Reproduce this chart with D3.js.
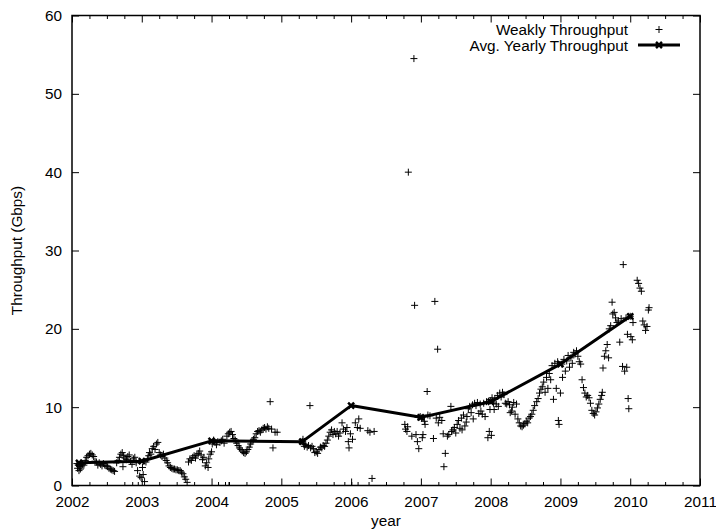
<!DOCTYPE html>
<html>
<head>
<meta charset="utf-8">
<script src="https://cdn.jsdelivr.net/npm/d3@7/dist/d3.min.js"></script>
<style>
  html, body { margin: 0; padding: 0; background: #fff; }
  svg { display: block; }
  text { font-family: "Liberation Sans", Arial, Helvetica, sans-serif; font-size: 15.3px; fill: #000; }
</style>
</head>
<body>
<svg id="chart" width="716" height="530"></svg>
<script>
// Weekly throughput samples (decimal year, Gbps)
const weekYear = [
  2002.07, 2002.08, 2002.09, 2002.10, 2002.11, 2002.12, 2002.13, 2002.14, 2002.15, 2002.17,
  2002.19, 2002.21, 2002.23, 2002.25, 2002.27, 2002.29, 2002.31, 2002.33, 2002.35, 2002.37,
  2002.39, 2002.41, 2002.43, 2002.45, 2002.47, 2002.49, 2002.51, 2002.53, 2002.55, 2002.57,
  2002.59, 2002.61, 2002.64, 2002.66, 2002.68, 2002.70, 2002.72, 2002.73, 2002.74, 2002.76,
  2002.78, 2002.80, 2002.82, 2002.84, 2002.86, 2002.87, 2002.88, 2002.90, 2002.92, 2002.94,
  2002.95, 2002.97, 2002.99, 2003.01, 2003.02, 2003.04, 2003.06, 2003.08, 2003.10, 2003.11,
  2003.13, 2003.15, 2003.17, 2003.19, 2003.21, 2003.23, 2003.25, 2003.27, 2003.29, 2003.31,
  2003.33, 2003.35, 2003.37, 2003.39, 2003.41, 2003.43, 2003.45, 2003.47, 2003.49, 2003.51,
  2003.53, 2003.55, 2003.57, 2003.59, 2003.61, 2003.63, 2003.65, 2003.67, 2003.69, 2003.71,
  2003.73, 2003.75, 2003.77, 2003.79, 2003.81, 2003.83, 2003.85, 2003.87, 2003.89, 2003.91,
  2003.93, 2003.95, 2003.96, 2003.98, 2004.00, 2004.01, 2004.03, 2004.05, 2004.07, 2004.09,
  2004.10, 2004.12, 2004.14, 2004.16, 2004.18, 2004.20, 2004.22, 2004.24, 2004.25, 2004.26,
  2004.28, 2004.30, 2004.32, 2004.34, 2004.36, 2004.38, 2004.40, 2004.42, 2004.44, 2004.46,
  2004.48, 2004.50, 2004.52, 2004.54, 2004.56, 2004.58, 2004.60, 2004.62, 2004.64, 2004.66,
  2004.68, 2004.70, 2004.72, 2004.74, 2004.76, 2004.78, 2004.80, 2004.82, 2004.84, 2004.86,
  2004.88, 2004.91, 2004.94,
  2005.30, 2005.31, 2005.32, 2005.33, 2005.35, 2005.37, 2005.39, 2005.41, 2005.42, 2005.44,
  2005.46, 2005.48, 2005.50, 2005.52, 2005.54, 2005.56, 2005.58, 2005.60, 2005.62, 2005.64,
  2005.66, 2005.68, 2005.70, 2005.72, 2005.74, 2005.76, 2005.78, 2005.80, 2005.82, 2005.84,
  2005.87, 2005.89, 2005.91, 2005.92, 2005.94, 2005.96, 2005.97, 2005.99, 2006.01, 2006.02,
  2006.06, 2006.09, 2006.10, 2006.11, 2006.13, 2006.24, 2006.27, 2006.30, 2006.33,
  2006.77, 2006.78, 2006.80, 2006.81, 2006.82, 2006.87, 2006.90, 2006.91, 2006.93, 2006.95,
  2006.96, 2006.97, 2006.99, 2007.01, 2007.02, 2007.03, 2007.05, 2007.06, 2007.09, 2007.10,
  2007.13, 2007.18, 2007.20, 2007.22, 2007.24, 2007.25, 2007.27, 2007.30, 2007.32, 2007.33,
  2007.35, 2007.38, 2007.40, 2007.43, 2007.44, 2007.46, 2007.48, 2007.50, 2007.52, 2007.54,
  2007.56, 2007.58, 2007.59, 2007.61, 2007.63, 2007.65, 2007.66, 2007.68, 2007.70, 2007.72,
  2007.74, 2007.75, 2007.77, 2007.79, 2007.81, 2007.83, 2007.85, 2007.86, 2007.88, 2007.90,
  2007.92, 2007.94, 2007.96, 2007.98, 2007.99, 2008.00, 2008.01, 2008.02, 2008.04, 2008.05,
  2008.06, 2008.08, 2008.10, 2008.11, 2008.13, 2008.15, 2008.17, 2008.19, 2008.21, 2008.23,
  2008.25, 2008.27, 2008.28, 2008.30, 2008.31, 2008.33, 2008.35, 2008.37, 2008.39, 2008.41,
  2008.43, 2008.45, 2008.47, 2008.49, 2008.51, 2008.53, 2008.55, 2008.57, 2008.59, 2008.61,
  2008.63, 2008.66, 2008.68, 2008.70, 2008.72, 2008.74, 2008.76, 2008.78, 2008.80, 2008.82,
  2008.84, 2008.86, 2008.88, 2008.90, 2008.92, 2008.94, 2008.96, 2008.97, 2008.98, 2009.00,
  2009.02, 2009.03, 2009.05, 2009.07, 2009.09, 2009.11, 2009.13, 2009.15, 2009.17, 2009.19,
  2009.21, 2009.23, 2009.25, 2009.27, 2009.29, 2009.31, 2009.33, 2009.35, 2009.37, 2009.39,
  2009.41, 2009.43, 2009.45, 2009.47, 2009.49, 2009.51, 2009.53, 2009.55, 2009.57, 2009.59,
  2009.60, 2009.61, 2009.63, 2009.65, 2009.67, 2009.69, 2009.70, 2009.72, 2009.74, 2009.75,
  2009.77, 2009.79, 2009.81, 2009.83, 2009.85, 2009.87, 2009.89, 2009.90, 2009.92, 2009.94,
  2009.95, 2009.96, 2009.97, 2009.98, 2010.00, 2010.01, 2010.03, 2010.04, 2010.10, 2010.12,
  2010.14, 2010.16, 2010.18, 2010.20, 2010.22, 2010.24, 2010.26, 2010.27
];
const weekGbps = [
  2.8, 2.2, 2.6, 1.9, 2.4, 2.1, 2.9, 2.5, 2.7, 2.6,
  3.2, 3.6, 3.8, 4.0, 4.1, 3.9, 3.7, 3.1, 3.0, 2.6,
  2.9, 2.7, 2.5, 2.8, 2.6, 2.5, 2.4, 2.2, 2.1, 2.0,
  1.9, 1.8, 2.9, 3.2, 3.6, 4.0, 4.2, 2.4, 3.8, 3.5,
  3.3, 3.7, 3.9, 3.1, 2.7, 0, 3.4, 3.6, 2.9, 1.9,
  0, 1.2, 1.0, 2.3, 1.4, 0.5, 3.0, 3.4, 3.8, 4.2,
  4.0, 4.7, 5.0, 4.6, 5.3, 5.5, 4.2, 3.9, 3.7, 4.0,
  3.5, 3.2, 2.9, 2.5, 2.3, 2.2, 2.1, 2.1, 2.0, 2.0,
  1.9, 1.9, 1.7, 1.5, 1.1, 0.8, 0.4, 3.0, 3.4, 3.2,
  3.6, 3.8, 3.5, 3.9, 4.1, 4.4, 3.9, 3.3, 3.6, 2.5,
  2.9, 2.3, 3.4, 4.0, 4.3, 5.3, 5.8, 5.5, 5.2, 5.6,
  0, 5.5, 5.7, 5.9, 5.4, 0, 6.3, 6.6, 0, 6.8,
  6.9, 6.5, 6.0, 5.8, 5.4, 5.1, 4.8, 4.6, 4.4, 4.2,
  4.1, 4.3, 4.6, 4.9, 5.3, 5.6, 5.9, 6.1, 6.6, 6.9,
  7.0, 6.8, 7.1, 7.3, 7.4, 7.2, 7.5, 7.3, 10.7, 7.2,
  4.8, 6.8, 6.8,
  5.6, 5.9, 5.3, 5.0, 5.2, 4.9, 5.1, 10.2, 4.8, 5.0,
  4.7, 4.2, 4.3, 4.1, 4.6, 4.9, 4.8, 5.1, 5.0, 5.4,
  5.8, 6.3, 6.8, 7.1, 6.5, 6.9, 6.6, 6.9, 6.3, 6.7,
  8.0, 7.2, 0, 6.9, 7.4, 5.6, 4.8, 6.6, 0, 5.9,
  8.0, 7.4, 0, 8.5, 7.3, 7.0, 6.8, 0.9, 6.9,
  7.8, 7.2, 6.9, 7.5, 40.0, 6.3, 54.5, 23.0, 6.5, 5.6,
  8.7, 4.7, 8.8, 8.6, 6.1, 6.5, 8.2, 7.8, 12.0, 9.0,
  8.9, 6.0, 23.5, 8.6, 17.4, 8.0, 8.7, 8.3, 6.6, 2.4,
  4.1, 6.3, 6.5, 10.1, 6.9, 7.1, 7.4, 6.7, 7.8, 8.3,
  7.3, 8.6, 7.1, 9.0, 7.6, 8.1, 8.8, 9.8, 10.1, 9.3,
  10.3, 8.5, 10.5, 10.2, 10.6, 9.2, 10.4, 9.5, 9.1, 10.5,
  8.8, 10.7, 6.1, 6.9, 9.7, 10.8, 6.4, 11.2, 10.5, 9.7,
  11.0, 10.4, 11.5, 10.1, 11.8, 11.3, 11.9, 11.6, 10.5, 10.4,
  10.7, 10.3, 9.3, 9.5, 10.0, 10.6, 9.1, 10.4, 8.5, 8.0,
  7.6, 7.5, 7.7, 7.9, 8.2, 8.0, 8.6, 8.8, 9.1, 9.6,
  10.2, 10.7, 11.1, 11.8, 12.3, 12.6, 13.2, 11.9, 13.8, 12.4,
  14.3, 13.5, 15.3, 11.0, 15.6, 12.4, 15.8, 8.3, 7.8, 11.8,
  15.5, 13.8, 16.1, 14.6, 15.9, 16.6, 15.1, 16.3, 15.6, 17.0,
  16.8, 17.2, 16.5, 15.8, 15.5, 13.5, 12.5, 11.8, 11.3, 11.5,
  11.2, 10.5, 9.6, 9.2, 9.0, 9.4, 9.9, 10.4, 11.0, 11.5,
  11.9, 15.0, 16.5, 17.2, 18.0, 16.3, 20.0, 20.4, 23.4, 21.9,
  22.1, 21.4, 20.8, 21.0, 18.3, 21.3, 15.2, 28.2, 14.6, 21.4,
  15.1, 19.3, 11.1, 9.8, 21.6, 19.0, 18.6, 20.8, 26.2, 25.8,
  25.2, 24.8, 21.0, 20.5, 19.8, 20.3, 22.4, 22.7
];

// Average yearly throughput
const avgYear = [2002.1, 2003.0, 2004.0, 2005.3, 2006.0, 2007.0, 2008.0, 2009.0, 2010.0];
const avgGbps = [2.9, 3.1, 5.7, 5.6, 10.2, 8.7, 10.7, 15.5, 21.6];

// Axis ticks
const yearTicks = [2002, 2003, 2004, 2005, 2006, 2007, 2008, 2009, 2010, 2011];
const gbpsTicks = [0, 10, 20, 30, 40, 50, 60];

const seriesNames = ["Weakly Throughput", "Avg. Yearly Throughput"];

const svg = d3.select("#chart");
const plotLeft = 72, plotRight = 700, plotTop = 15.5, plotBottom = 485.5;

const x = d3.scaleLinear().domain([2002, 2011]).range([plotLeft, plotRight]);
const y = d3.scaleLinear().domain([0, 60]).range([plotBottom, plotTop]);

const minorYears = d3.range(2002, 2011.001, 0.25).filter(v => Math.abs(v - Math.round(v)) > 1e-6);

// Clip region for the data
svg.append("clipPath").attr("id", "plotClip")
  .append("rect").attr("x", plotLeft).attr("y", plotTop)
  .attr("width", plotRight - plotLeft).attr("height", plotBottom - plotTop);

// Axes (ticks pointing inward, mirrored on the opposite side)
const majorLen = 7, minorLen = 3.5;
function styleAxis(g) {
  g.select(".domain").remove();
  g.selectAll(".tick line").attr("stroke", "#000").attr("stroke-width", 1);
  g.selectAll("text").attr("font-size", null).attr("font-family", null).attr("fill", null);
}

svg.append("g").attr("transform", `translate(0,${plotBottom})`)
  .call(d3.axisBottom(x).tickValues(yearTicks).tickFormat(d3.format("d")).tickSizeInner(-majorLen).tickSizeOuter(0).tickPadding(11))
  .call(styleAxis);

svg.append("g").attr("transform", `translate(0,${plotBottom})`)
  .call(d3.axisBottom(x).tickValues(minorYears).tickFormat("").tickSizeInner(-minorLen).tickSizeOuter(0))
  .call(styleAxis);

svg.append("g").attr("transform", `translate(0,${plotTop})`)
  .call(d3.axisTop(x).tickValues(yearTicks).tickFormat("").tickSizeInner(-majorLen).tickSizeOuter(0))
  .call(styleAxis);

svg.append("g").attr("transform", `translate(0,${plotTop})`)
  .call(d3.axisTop(x).tickValues(minorYears).tickFormat("").tickSizeInner(-minorLen).tickSizeOuter(0))
  .call(styleAxis);

svg.append("g").attr("transform", `translate(${plotLeft},0)`)
  .call(d3.axisLeft(y).tickValues(gbpsTicks).tickFormat(d3.format("d")).tickSizeInner(-majorLen).tickSizeOuter(0).tickPadding(10))
  .call(styleAxis);

svg.append("g").attr("transform", `translate(${plotRight},0)`)
  .call(d3.axisRight(y).tickValues(gbpsTicks).tickFormat("").tickSizeInner(-majorLen).tickSizeOuter(0))
  .call(styleAxis);

// Frame
svg.append("rect")
  .attr("x", plotLeft).attr("y", plotTop)
  .attr("width", plotRight - plotLeft).attr("height", plotBottom - plotTop)
  .attr("fill", "none").attr("stroke", "#000").attr("stroke-width", 1.5);

// Axis titles
svg.append("text")
  .attr("x", (plotLeft + plotRight) / 2).attr("y", 526)
  .attr("text-anchor", "middle").text("year");

svg.append("text")
  .attr("transform", `translate(22,${(plotTop + plotBottom) / 2}) rotate(-90)`)
  .attr("text-anchor", "middle").text("Throughput (Gbps)");

// Markers
const plusPath = "M-3.5,0H3.5M0,-3.5V3.5";
const crossPath = "M-3,-3L3,3M-3,3L3,-3";

const plot = svg.append("g").attr("clip-path", "url(#plotClip)");

// Weekly points
plot.append("g").selectAll("path")
  .data(weekYear.map((yr, i) => [yr, weekGbps[i]]))
  .join("path")
  .attr("transform", d => `translate(${x(d[0])},${y(d[1])})`)
  .attr("d", plusPath)
  .attr("fill", "none").attr("stroke", "#000").attr("stroke-width", 1);

// Yearly average line with markers
const avgData = avgYear.map((yr, i) => [yr, avgGbps[i]]);
plot.append("path")
  .datum(avgData)
  .attr("d", d3.line().x(d => x(d[0])).y(d => y(d[1])))
  .attr("fill", "none").attr("stroke", "#000").attr("stroke-width", 3).attr("stroke-linejoin", "round");

plot.append("g").selectAll("path")
  .data(avgData)
  .join("path")
  .attr("transform", d => `translate(${x(d[0])},${y(d[1])})`)
  .attr("d", crossPath)
  .attr("fill", "none").attr("stroke", "#000").attr("stroke-width", 2.5);

// Legend
const legend = svg.append("g");
legend.append("text").attr("x", 628).attr("y", 35).attr("text-anchor", "end").text(seriesNames[0]);
legend.append("path").attr("transform", "translate(659,29.5)").attr("d", plusPath)
  .attr("fill", "none").attr("stroke", "#000").attr("stroke-width", 1);
legend.append("text").attr("x", 628).attr("y", 51).attr("text-anchor", "end").text(seriesNames[1]);
legend.append("line").attr("x1", 638).attr("x2", 680).attr("y1", 45).attr("y2", 45)
  .attr("stroke", "#000").attr("stroke-width", 3);
legend.append("path").attr("transform", "translate(659,45)").attr("d", crossPath)
  .attr("fill", "none").attr("stroke", "#000").attr("stroke-width", 2.5);
</script>
</body>
</html>
